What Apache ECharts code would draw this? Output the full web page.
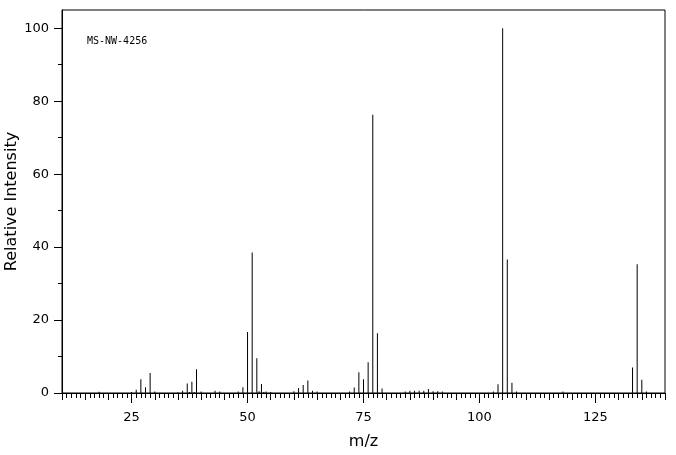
<!DOCTYPE html>
<html>
<head>
<meta charset="utf-8">
<script src="https://cdn.jsdelivr.net/npm/echarts@6/dist/echarts.min.js"></script>
<style>html,body{margin:0;padding:0;background:#fff}#c{width:676px;height:455px}</style>
</head>
<body>
<div id="c"></div>
<script>
const mz = [18, 25, 26, 27, 28, 29, 30, 35, 36, 37, 37.5, 38, 38.5, 39, 40, 43, 44, 48, 49, 50, 51, 52, 52.5, 53, 53.5, 54, 55,
  60, 61, 62, 63, 64, 65, 72, 73, 74, 75, 76, 77, 78, 79, 84, 85, 86, 87, 88, 89, 90, 91, 92,
  103, 104, 105, 106, 107, 108, 118, 133, 134, 135, 136];
const intensity = [0.35, 0.3, 0.9, 3.8, 1.6, 5.5, 0.4, 0.2, 0.6, 2.6, 0.3, 3.1, 0.3, 6.5, 0.4, 0.6, 0.4, 0.4, 1.6, 16.7, 38.5, 9.5, 0.5, 2.5, 0.3, 0.4, 0.3,
  0.5, 1.4, 2.2, 3.4, 0.6, 0.4, 0.4, 1.5, 5.7, 3.8, 8.4, 76.3, 16.4, 1.2, 0.4, 0.6, 0.6, 0.6, 0.6, 1.1, 0.5, 0.5, 0.4,
  0.4, 2.4, 100, 36.6, 2.8, 0.4, 0.4, 7.0, 35.3, 3.6, 0.4];
const xLabels = [25, 50, 75, 100, 125];
const yLabels = [0, 20, 40, 60, 80, 100];
const yMinor = [10, 30, 50, 70, 90];
const title = 'MS-NW-4256';

const font = 'DejaVu Sans';
const chart = echarts.init(document.getElementById('c'), null, {renderer: 'canvas'});
chart.setOption({
  animation: false,
  backgroundColor: '#fff',
  title: {
    text: title, left: 87, top: 36, padding: 0,
    textStyle: {fontFamily: 'DejaVu Sans Mono', fontSize: 10, fontWeight: 'normal', color: '#000'}
  },
  grid: {left: 62, right: 11, top: 10, bottom: 62, containLabel: false, outerBoundsMode: 'none',
    show: true, borderColor: '#000', borderWidth: 1, backgroundColor: 'transparent'},
  xAxis: [{
    type: 'value', min: 10, max: 140, interval: 5,
    name: 'm/z', nameLocation: 'middle', nameGap: 41, nameMoveOverlap: false,
    nameTextStyle: {fontFamily: font, fontSize: 16, color: '#000'},
    axisLine: {show: true, lineStyle: {color: '#000', width: 1}},
    axisTick: {show: true, length: 7, lineStyle: {color: '#000'}},
    minorTick: {show: true, splitNumber: 5, length: 5, lineStyle: {color: '#000'}},
    axisLabel: {customValues: xLabels, margin: 18, fontFamily: font, fontSize: 13, color: '#000'},
    splitLine: {show: false}, minorSplitLine: {show: false}
  }, {
    type: 'value', min: 10, max: 140, position: 'bottom',
    axisLine: {show: false},
    axisTick: {show: true, length: 10, customValues: xLabels, lineStyle: {color: '#000'}},
    axisLabel: {show: false}, splitLine: {show: false}
  }],
  yAxis: [{
    type: 'value', min: 0, max: 105,
    name: 'Relative Intensity', nameLocation: 'middle', nameGap: 42, nameMoveOverlap: false,
    nameTextStyle: {fontFamily: font, fontSize: 16, color: '#000'},
    axisLine: {show: true, lineStyle: {color: '#000', width: 1}},
    axisTick: {show: true, length: 8, customValues: yLabels, lineStyle: {color: '#000'}},
    axisLabel: {customValues: yLabels, margin: 13, fontFamily: font, fontSize: 13, color: '#000'},
    splitLine: {show: false}
  }, {
    type: 'value', min: 0, max: 105, position: 'left',
    axisLine: {show: false},
    axisTick: {show: true, length: 4, customValues: yMinor, lineStyle: {color: '#000'}},
    axisLabel: {show: false}, splitLine: {show: false}
  }],
  series: [{
    type: 'bar', xAxisIndex: 0, yAxisIndex: 0,
    barWidth: 1,
    itemStyle: {color: '#000'},
    data: mz.map((m, i) => [m, intensity[i]])
  }]
});
</script>
</body>
</html>
